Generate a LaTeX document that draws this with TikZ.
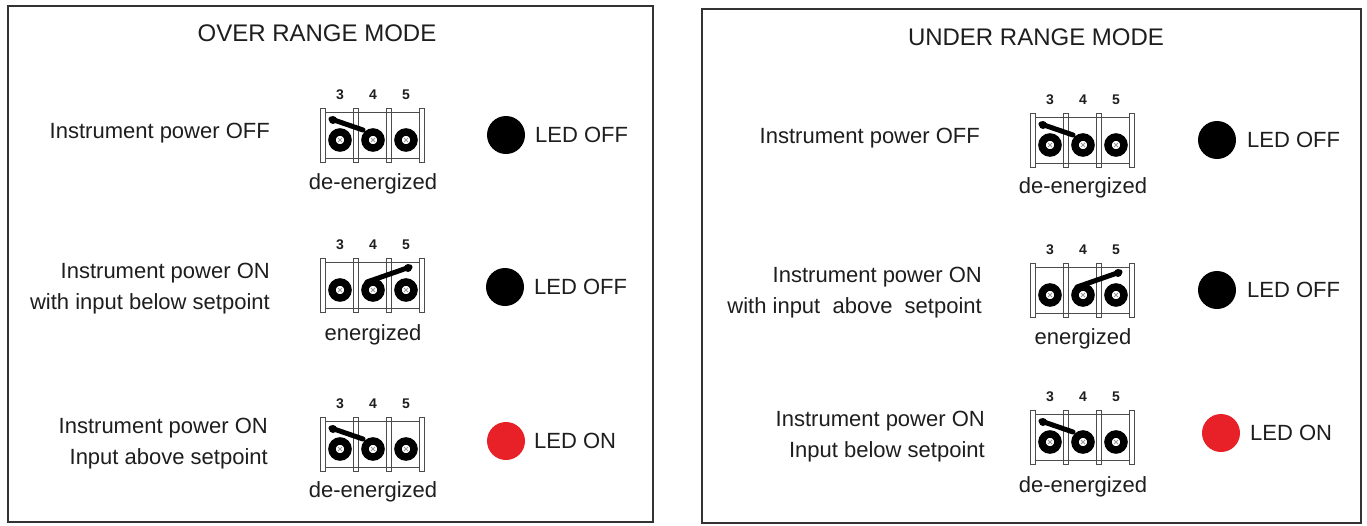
\documentclass[tikz,border=0pt]{standalone}
\usepackage{fontspec}
\setmainfont{Liberation Sans}
\usetikzlibrary{positioning}
\definecolor{ledred}{RGB}{232,32,40}
\definecolor{ink}{RGB}{30,30,30}
\tikzset{
  panel/.style={draw=black!80, line width=2pt},
  title/.style={font=\fontsize{24}{28}\selectfont, text=ink, inner sep=0pt},
  cond/.style={font=\fontsize{22}{31}\selectfont, text=ink, align=right, anchor=east, inner sep=0pt},
  relaystate/.style={font=\fontsize{22}{26}\selectfont, text=ink, inner sep=0pt},
  ledtext/.style={font=\fontsize{22}{26}\selectfont, text=ink, anchor=west, inner sep=0pt},
  pinnum/.style={font=\bfseries\fontsize{14}{16}\selectfont, text=ink, inner sep=0pt},
  bar/.style={draw=black!70, line width=1pt},
  screw/.style={draw=black, line width=7.5pt},
  lever/.style={line width=5pt, line cap=round},
  ledoff/.style={circle, fill=black, minimum size=38pt, inner sep=0pt},
  ledon/.style={circle, fill=ledred, minimum size=38pt, inner sep=0pt},
}
% terminal block 3-4-5: name, x, y (centre screw)
\newcommand{\termblock}[3]{%
  \begin{scope}[shift={(#2,#3)}]
    \foreach \bx in {-50,-17,16,49}
      \draw[bar] (\bx-2.5,-32) rectangle (\bx+2.5,22);
    \draw[bar] (-47.5,-28) -- (46.5,-28);
    \draw[bar] (-47.5,18) -- (46.5,18);
    \foreach \sx/\num in {-33/3,0/4,33/5} {
      \node[pinnum] (#1-\num) at (\sx,-45) {\num};
      \draw[screw] (\sx,0) circle[radius=8pt];
      \draw[black!40, line width=0.8pt] (\sx-2,-2) -- (\sx+2,2) (\sx-2,2) -- (\sx+2,-2);
    }
  \end{scope}}
% lever resting on 3-4
\newcommand{\leverde}[2]{%
  \begin{scope}[shift={(#1,#2)}]
    \draw[lever] (-42,-21) -- (-10,-10);
    \fill (-40,-20) circle[radius=4pt];
  \end{scope}}
% lever pulled over to 4-5
\newcommand{\leveren}[2]{%
  \begin{scope}[shift={(#1,#2)}]
    \draw[lever] (-6,-8) -- (37,-23);
    \fill (35,-22) circle[radius=4pt];
  \end{scope}}

\begin{document}
\begin{tikzpicture}[x=1pt, y=-1pt]
    \useasboundingbox (0,0) rectangle (1367,525);
    \fill[white] (0,0) rectangle (1367,525);
    % panels
    \draw[panel] (8,6) rectangle (653,522);
    \draw[panel] (702,9) rectangle (1361,523);
    \node[title] (over) at (317,33) {OVER RANGE MODE};
    \node[title] (under) at (1036,37) {UNDER RANGE MODE};

    % over range mode
    \node[cond] (over-c1) at (270,133) {Instrument power OFF};
    \termblock{over-t1}{373}{140}
    \leverde{373}{140}
    \node[relaystate] (over-s1) at (373,184) {de-energized};
    \node[ledoff] (over-led1) at (506,135) {};
    \node[ledtext] (over-l1) at (535,135) {LED OFF};

    \node[cond] (over-c2) at (270,288.5) {Instrument power ON\\with input below setpoint};
    \termblock{over-t2}{373}{290}
    \leveren{373}{290}
    \node[relaystate] (over-s2) at (373,335) {energized};
    \node[ledoff] (over-led2) at (505,287) {};
    \node[ledtext] (over-l2) at (534,287) {LED OFF};

    \node[cond] (over-c3) at (268,444) {Instrument power ON\\Input above setpoint};
    \termblock{over-t3}{373}{449}
    \leverde{373}{449}
    \node[relaystate] (over-s3) at (373,492) {de-energized};
    \node[ledon] (over-led3) at (506,441) {};
    \node[ledtext] (over-l3) at (534,441) {LED ON};

    % under range mode
    \node[cond] (under-c1) at (980,138) {Instrument power OFF};
    \termblock{under-t1}{1083}{145}
    \leverde{1083}{145}
    \node[relaystate] (under-s1) at (1083,188) {de-energized};
    \node[ledoff] (under-led1) at (1217,140) {};
    \node[ledtext] (under-l1) at (1247,140) {LED OFF};

    \node[cond] (under-c2) at (982,292.5) {Instrument power ON\\with input\ \ above\ \ setpoint};
    \termblock{under-t2}{1083}{295}
    \leveren{1083}{295}
    \node[relaystate] (under-s2) at (1083,339) {energized};
    \node[ledoff] (under-led2) at (1217,290) {};
    \node[ledtext] (under-l2) at (1247,290) {LED OFF};

    \node[cond] (under-c3) at (985,436.5) {Instrument power ON\\Input below setpoint};
    \termblock{under-t3}{1083}{442}
    \leverde{1083}{442}
    \node[relaystate] (under-s3) at (1083,487) {de-energized};
    \node[ledon] (under-led3) at (1221,433) {};
    \node[ledtext] (under-l3) at (1250,433) {LED ON};
\end{tikzpicture}
\end{document}
